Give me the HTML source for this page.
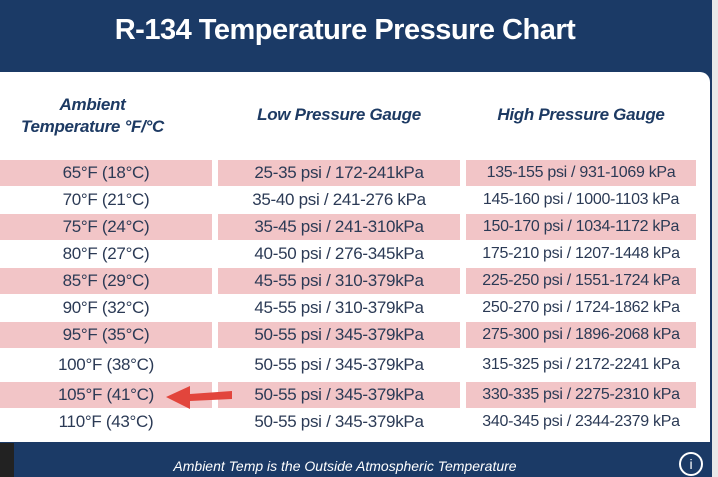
<!DOCTYPE html>
<html><head><style>
body{margin:0;width:718px;height:477px;overflow:hidden;background:#1b3a66;font-family:"Liberation Sans",sans-serif;position:relative}
.title{position:absolute;left:0;width:690px;top:14px;text-align:center;color:#fff;font-weight:bold;font-size:29px;letter-spacing:-0.5px}
.panel{position:absolute;left:0;top:72px;width:710px;height:370px;background:#fff;border-top-right-radius:10px}
.side{position:absolute;left:712px;top:0;width:6px;height:477px;background:#e8e8e8}
.h{position:absolute;color:#1d3a63;font-weight:bold;font-style:italic;font-size:17px;text-align:center;letter-spacing:-0.3px}
.c{position:absolute;height:26px;line-height:26px;text-align:center;color:#2b3a55;font-size:17px;letter-spacing:-0.3px}
.p{background:#f2c5c7}
.foot{position:absolute;left:0;width:690px;top:458px;text-align:center;color:#fff;font-style:italic;font-size:14px}
</style></head><body>
<div class="title">R-134 Temperature Pressure Chart</div>
<div class="panel"></div>
<div class="side"></div>
<div class="h" style="left:0;width:185px;top:94px;line-height:22px">Ambient<br>Temperature °F/°C</div>
<div class="h" style="left:218px;width:242px;top:105px">Low Pressure Gauge</div>
<div class="h" style="left:466px;width:230px;top:105px">High Pressure Gauge</div>
<div id="rows"></div>
<script>
var d=[["65°F (18°C)","25-35 psi / 172-241kPa","135-155 psi / 931-1069 kPa",160],
["70°F (21°C)","35-40 psi / 241-276 kPa","145-160 psi / 1000-1103 kPa",187],
["75°F (24°C)","35-45 psi / 241-310kPa","150-170 psi / 1034-1172 kPa",214],
["80°F (27°C)","40-50 psi / 276-345kPa","175-210 psi / 1207-1448 kPa",241],
["85°F (29°C)","45-55 psi / 310-379kPa","225-250 psi / 1551-1724 kPa",268],
["90°F (32°C)","45-55 psi / 310-379kPa","250-270 psi / 1724-1862 kPa",295],
["95°F (35°C)","50-55 psi / 345-379kPa","275-300 psi / 1896-2068 kPa",322],
["100°F (38°C)","50-55 psi / 345-379kPa","315-325 psi / 2172-2241 kPa",352],
["105°F (41°C)","50-55 psi / 345-379kPa","330-335 psi / 2275-2310 kPa",382],
["110°F (43°C)","50-55 psi / 345-379kPa","340-345 psi / 2344-2379 kPa",409]];
var h="";d.forEach(function(r,i){var p=i%2==0?" p":"";
h+='<div class="c'+p+'" style="left:0;width:212px;top:'+r[3]+'px">'+r[0]+'</div>';
h+='<div class="c'+p+'" style="left:218px;width:242px;top:'+r[3]+'px">'+r[1]+'</div>';
h+='<div class="c'+p+'" style="left:466px;width:230px;top:'+r[3]+'px;font-size:16px">'+r[2]+'</div>';});
document.getElementById("rows").innerHTML=h;
</script>
<svg style="position:absolute;left:160px;top:382px" width="75" height="30"><path d="M72 9 L30 12 L30 4 L6 15 L30 27 L30 19 L72 17 Z" fill="#e2453c"/></svg>
<div style="position:absolute;left:0;top:443px;width:14px;height:34px;background:#222"></div>
<div class="foot">Ambient Temp is the Outside Atmospheric Temperature</div>
<div style="position:absolute;left:679px;top:452px;width:20px;height:20px;border:2px solid #fff;border-radius:50%;color:#fff;font-size:14px;line-height:20px;text-align:center">i</div>
</body></html>
